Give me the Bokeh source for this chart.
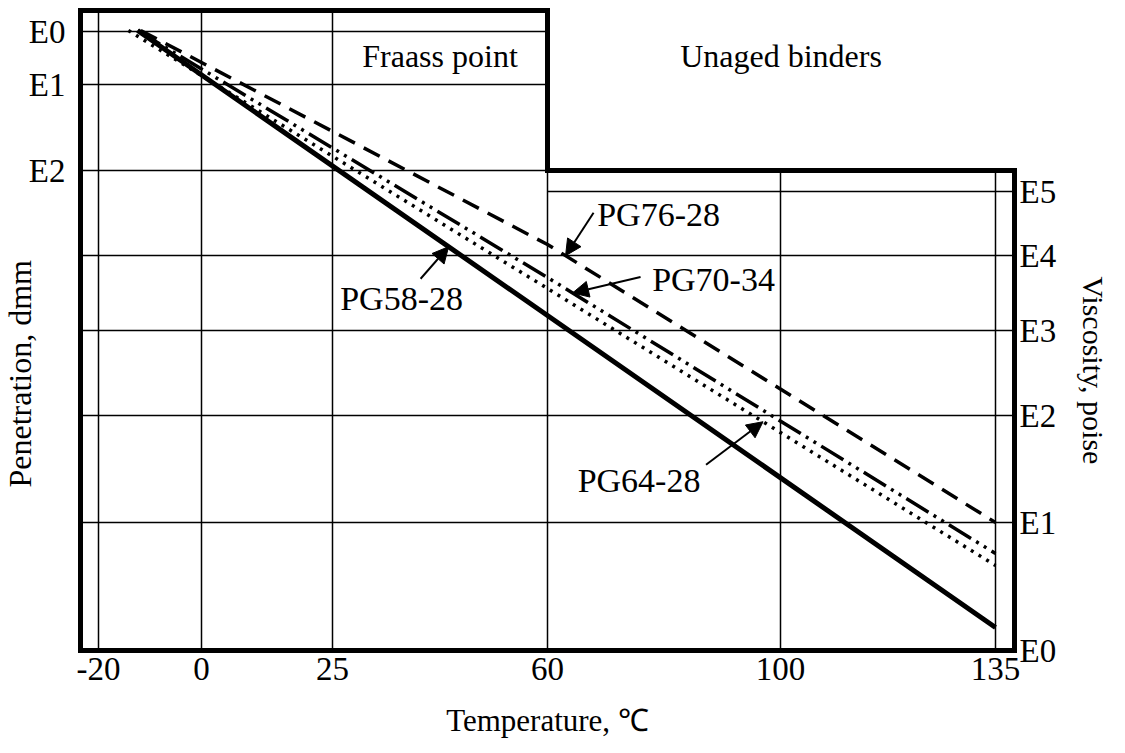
import numpy as np
from bokeh.plotting import figure
from bokeh.models import Range1d, LinearAxis, FixedTicker, Arrow, NormalHead, Title
from bokeh.embed import file_html
from bokeh.resources import INLINE
from bokeh.core.properties import value

FONT = "Liberation Serif"

# ---- Temperature axis (BTDC scale is non-linear: calibration of each tick) ----
TEMP_TICKS = [-20, 0, 25, 60, 100, 135]
TEMP_TICK_POS = [18, 121, 252, 467, 700, 915]

# ---- Penetration axis (left) and viscosity axis (right) ----
PEN_LABELS = ["E0", "E1", "E2"]
PEN_LEVEL = [619, 566, 480]
VISC_LABELS = ["E0", "E1", "E2", "E3", "E4", "E5"]
VISC_LEVEL = [0, 128, 235, 320, 395, 459]

# ---- Binder lines: temperature (°C) and chart level ----
BINDERS = ["PG58-28", "PG64-28", "PG70-34", "PG76-28"]
PG58_28_TEMP = [-12.4, 60, 135]
PG58_28_LEVEL = [620, 335, 23]
PG64_28_TEMP = [-14.2, 60, 135]
PG64_28_LEVEL = [620, 362, 85]
PG70_34_TEMP = [-12.4, 60, 135]
PG70_34_LEVEL = [620, 373, 97]
PG76_28_TEMP = [-11.8, 60, 135]
PG76_28_LEVEL = [620, 406, 128]

# temperature at which each label arrow points to its line
ARROW_TEMP = {"PG58-28": 43.9, "PG64-28": 97.0, "PG70-34": 64.3, "PG76-28": 63.1}

REGION_TEXT = ["Fraass point", "Unaged binders"]

CHART_X = (0, 934)
CHART_Y = (0, 640)
STEP_TEMP = 60


def t2x(t):
    return np.interp(t, TEMP_TICKS, TEMP_TICK_POS)


step_x = float(t2x(STEP_TEMP))
step_y = PEN_LEVEL[-1]
x0, x1 = CHART_X
y0, y1 = CHART_Y

p = figure(frame_width=940, frame_height=646,
           x_range=Range1d(x0 - 3, x1 + 3), y_range=Range1d(y0 - 3, y1 + 3),
           output_backend="svg", toolbar_location=None,
           x_axis_type=None, y_axis_type=None,
           min_border_left=77, min_border_right=108, min_border_top=7, min_border_bottom=100)
p.outline_line_color = None
p.background_fill_color = "white"
p.border_fill_color = "white"

# ---- grid lines ----
gx0, gy0, gx1, gy1 = [], [], [], []
for xp in TEMP_TICK_POS:
    gx0.append(xp); gy0.append(y0); gx1.append(xp); gy1.append(y1 if xp < step_x else step_y)
for lv in PEN_LEVEL:
    gx0.append(x0); gy0.append(lv); gx1.append(step_x); gy1.append(lv)
for i, lv in enumerate(VISC_LEVEL):
    if lv == y0:
        continue
    start = step_x if i == len(VISC_LEVEL) - 1 else x0
    gx0.append(start); gy0.append(lv); gx1.append(x1); gy1.append(lv)
p.segment(gx0, gy0, gx1, gy1, line_color="black", line_width=1.5)

# ---- stepped chart border ----
mid = (y0 + y1) / 2
p.line([x0, x0, step_x, step_x, x1, x1, x0, x0],
       [mid, y1, y1, step_y, step_y, y0, y0, mid],
       line_color="black", line_width=5, line_join="miter")

# ---- binder lines ----
series = {
    "PG58-28": (PG58_28_TEMP, PG58_28_LEVEL, dict(line_width=5)),
    "PG64-28": (PG64_28_TEMP, PG64_28_LEVEL, dict(line_width=3.5, line_dash="3 6")),
    "PG70-34": (PG70_34_TEMP, PG70_34_LEVEL, dict(line_width=3.5, line_dash="26 6 3 6 3 6")),
    "PG76-28": (PG76_28_TEMP, PG76_28_LEVEL, dict(line_width=3.5, line_dash="18 10")),
}
for name in BINDERS:
    t, lv, style = series[name]
    p.line(t2x(t), lv, line_color="black", **style)

# ---- arrows + labels (offsets in px from the arrow tip) ----
TAIL_OFF = {"PG58-28": (-28, -32), "PG64-28": (-57, -43), "PG70-34": (68, 16), "PG76-28": (28, 43)}
TEXT_OFF = {"PG58-28": (-47, -52), "PG64-28": (-124, -59), "PG70-34": (141, 13), "PG76-28": (93, 41)}
lx, ly, lt = [], [], []
for name in BINDERS:
    t, lv, _ = series[name]
    xs = t2x(t)
    tx = float(t2x(ARROW_TEMP[name]))
    ty = float(np.interp(tx, xs, lv))
    dx, dy = TAIL_OFF[name]
    p.add_layout(Arrow(x_start=tx + dx, y_start=ty + dy, x_end=tx, y_end=ty,
                       line_color="black", line_width=2,
                       end=NormalHead(size=16, fill_color="black", line_color="black")))
    ox, oy = TEXT_OFF[name]
    lx.append(tx + ox); ly.append(ty + oy); lt.append(name)
p.text(x=lx, y=ly, text=lt, text_font=value(FONT), text_font_size="34px",
       text_align="center", text_baseline="middle", text_color="black")

# ---- region captions ----
p.text(x=[(t2x(25) + step_x) / 2, (step_x + x1) / 2], y=[595, 595], text=REGION_TEXT,
       text_font=value(FONT), text_font_size="32px", text_align="center",
       text_baseline="alphabetic", text_color="black")

# ---- axes ----
def style_axis(ax, standoff):
    ax.axis_line_color = None
    ax.major_tick_line_color = None
    ax.minor_tick_line_color = None
    ax.major_tick_out = 0
    ax.major_tick_in = 0
    ax.major_label_text_font = FONT
    ax.major_label_text_font_size = "33px"
    ax.major_label_text_color = "black"
    ax.major_label_standoff = standoff

xa = LinearAxis(ticker=FixedTicker(ticks=TEMP_TICK_POS),
                major_label_overrides={pos: str(t) for pos, t in zip(TEMP_TICK_POS, TEMP_TICKS)},
                axis_label="Temperature, ℃")
style_axis(xa, 4)
xa.axis_label_text_font = FONT
xa.axis_label_text_font_size = "31px"
xa.axis_label_text_font_style = "normal"
xa.axis_label_text_color = "black"
xa.axis_label_standoff = 20
p.add_layout(xa, "below")

ya = LinearAxis(ticker=FixedTicker(ticks=PEN_LEVEL),
                major_label_overrides={lv: s for lv, s in zip(PEN_LEVEL, PEN_LABELS)})
style_axis(ya, 12)
p.add_layout(ya, "left")

yb = LinearAxis(ticker=FixedTicker(ticks=VISC_LEVEL),
                major_label_overrides={lv: s for lv, s in zip(VISC_LEVEL, VISC_LABELS)})
style_axis(yb, 2)
p.add_layout(yb, "right")

# ---- side titles (placed along the side with offset) ----
p.add_layout(Title(text="Penetration, dmm", align="left", offset=166, standoff=-24,
                   vertical_align="bottom", text_font=FONT, text_font_size="32px",
                   text_font_style="normal", text_color="black"), "left")
p.add_layout(Title(text="Viscosity, poise", align="left", offset=269, standoff=30,
                   vertical_align="top", text_font=FONT, text_font_size="30px",
                   text_font_style="normal", text_color="black"), "right")

open("out.html", "w").write(file_html(p, INLINE))
